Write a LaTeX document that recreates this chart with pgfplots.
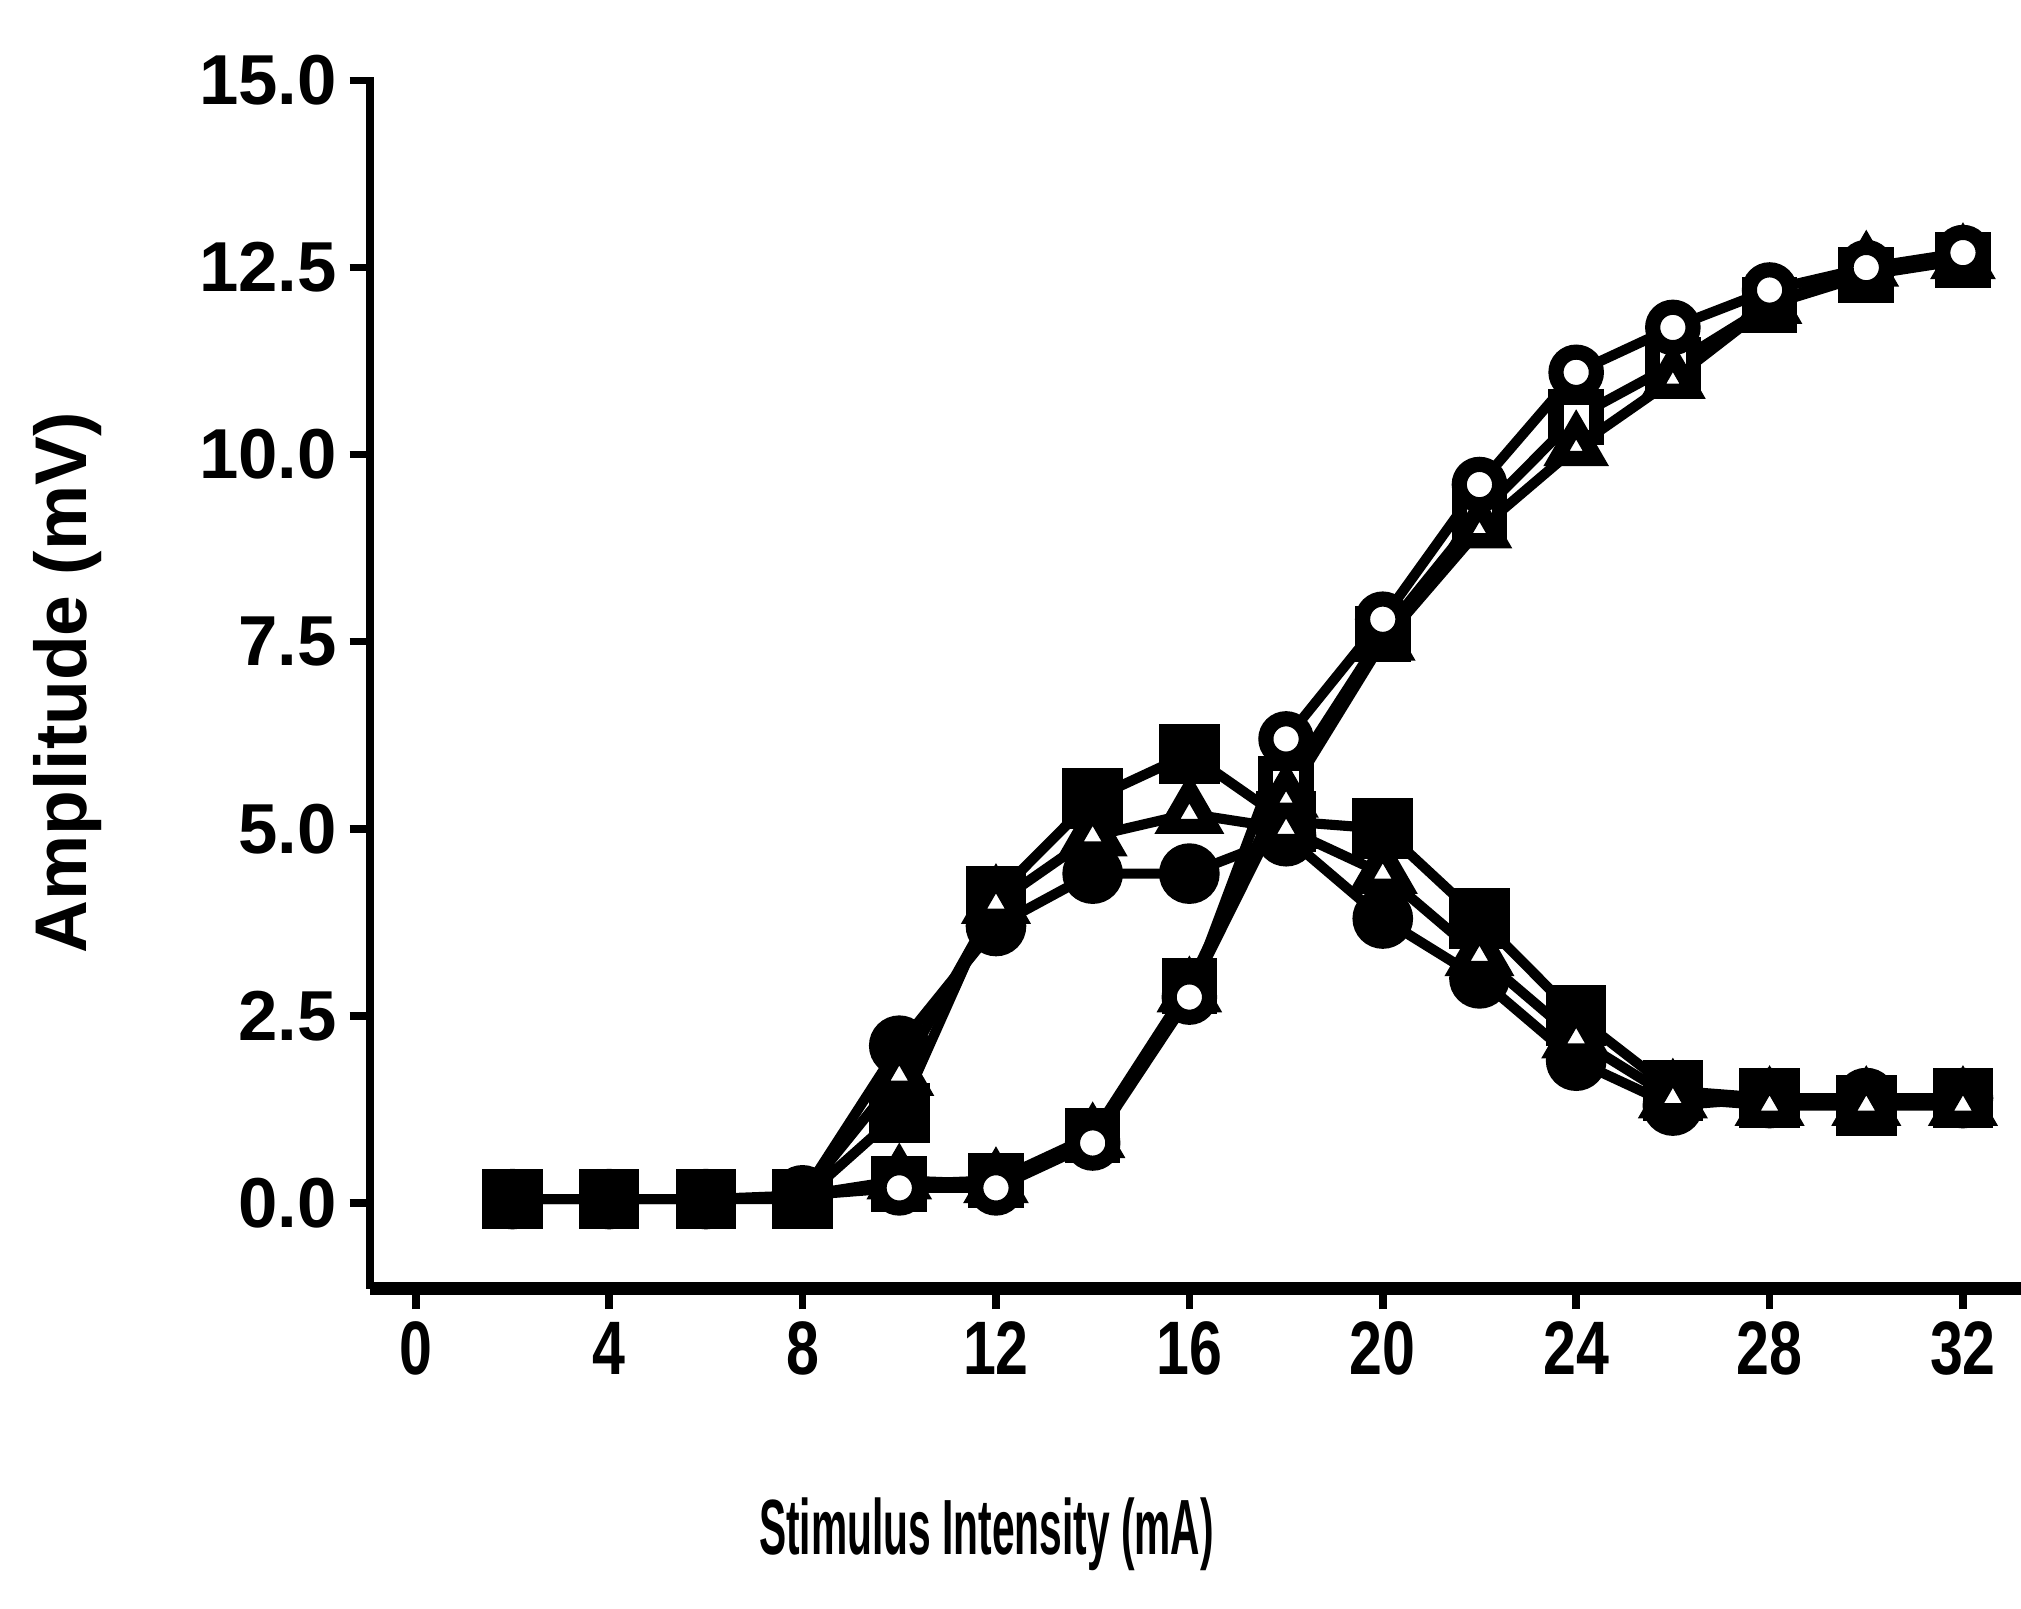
\documentclass[border=0pt]{standalone}
\usepackage{pgfplots}
\pgfplotsset{compat=1.18}
\usepackage{fontspec}
\setmainfont{Liberation Sans}
\newcommand\xs[1]{\scalebox{0.78}[1]{#1}}
\begin{document}
\begin{tikzpicture}
\begin{axis}[
  at={(0,0)}, anchor=south west,
  scale only axis, width=326.8pt, height=239.9pt,
  xmin=-0.95, xmax=33.2, ymin=-1.15, ymax=15.05,
  axis lines=left,
  axis line style={-, line width=1.5pt},
  x axis line style={line width=2.6pt},
  xtick={0,4,8,12,16,20,24,28,32},
  xticklabels={\xs{0},\xs{4},\xs{8},\xs{12},\xs{16},\xs{20},\xs{24},\xs{28},\xs{32}},
  ytick={0,2.5,5,7.5,10,12.5,15},
  yticklabels={0.0,2.5,5.0,7.5,10.0,12.5,15.0},
  tick align=outside,
  major tick length=4pt,
  tick style={line width=1.5pt, black},
  every tick label/.append style={font=\bfseries\fontsize{14}{14}\selectfont},
  xticklabel style={font=\bfseries\fontsize{15}{15}\selectfont, yshift=1pt},
  yticklabel style={xshift=1pt},
  every axis y label/.style={at={(axis description cs:-0.1833,0.5)}, rotate=90, anchor=center},
  every axis x label/.style={at={(axis description cs:0.3735,-0.2022)}, anchor=center},
  ylabel={\bfseries\fontsize{14.5}{14.5}\selectfont Amplitude (mV)},
  xlabel={\bfseries\fontsize{15.5}{15.5}\selectfont\scalebox{0.52}[1]{Stimulus Intensity (mA)}},
  clip=false,
  every axis plot/.append style={black, line width=2pt},
]
% descending (H-reflex type) curves
\addplot[mark=square*, mark size=5pt] coordinates {
(2,0.05)(4,0.05)(6,0.05)(8,0.05)(10,1.2)(12,4.1)(14,5.4)(16,6.0)(18,5.1)(20,5.0)(22,3.8)(24,2.5)(26,1.5)(28,1.4)(30,1.3)(32,1.4)};
\addplot[mark=*, mark size=5pt] coordinates {
(2,0.05)(4,0.05)(6,0.05)(8,0.1)(10,2.1)(12,3.7)(14,4.4)(16,4.4)(18,4.9)(20,3.8)(22,3.0)(24,1.9)(26,1.3)(28,1.4)(30,1.4)(32,1.4)};
\addplot[mark=triangle*, mark size=5pt, mark indices={2,...,13}, mark options={fill=white, line width=3pt}] coordinates {
(8,0.1)(10,1.7)(12,4.0)(14,4.9)(16,5.2)(18,5.0)(20,4.4)(22,3.3)(24,2.2)(26,1.4)(28,1.3)(30,1.3)(32,1.3)};
% ascending (M-wave type) curves
\addplot[mark=square*, mark size=4pt, mark indices={2,...,13}, mark options={fill=white, line width=3pt}] coordinates {
(8,0.1)(10,0.25)(12,0.3)(14,0.9)(16,2.9)(18,5.6)(20,7.6)(22,9.2)(24,10.5)(26,11.2)(28,12.0)(30,12.4)(32,12.6)};
\addplot[mark=triangle*, mark size=4.5pt, mark indices={2,...,13}, mark options={fill=white, line width=3pt}] coordinates {
(8,0.1)(10,0.3)(12,0.25)(14,0.85)(16,2.8)(18,5.4)(20,7.5)(22,9.0)(24,10.1)(26,11.0)(28,12.0)(30,12.5)(32,12.6)};
\addplot[mark=*, mark size=4pt, mark indices={2,...,13}, mark options={fill=white, line width=3pt}] coordinates {
(8,0.1)(10,0.2)(12,0.2)(14,0.8)(16,2.75)(18,6.2)(20,7.8)(22,9.6)(24,11.1)(26,11.7)(28,12.2)(30,12.5)(32,12.7)};
\end{axis}
\pgfresetboundingbox
\path[use as bounding box] (-73.2pt,-63.3pt) rectangle (326.8pt,255.1pt);
\end{tikzpicture}
\end{document}
